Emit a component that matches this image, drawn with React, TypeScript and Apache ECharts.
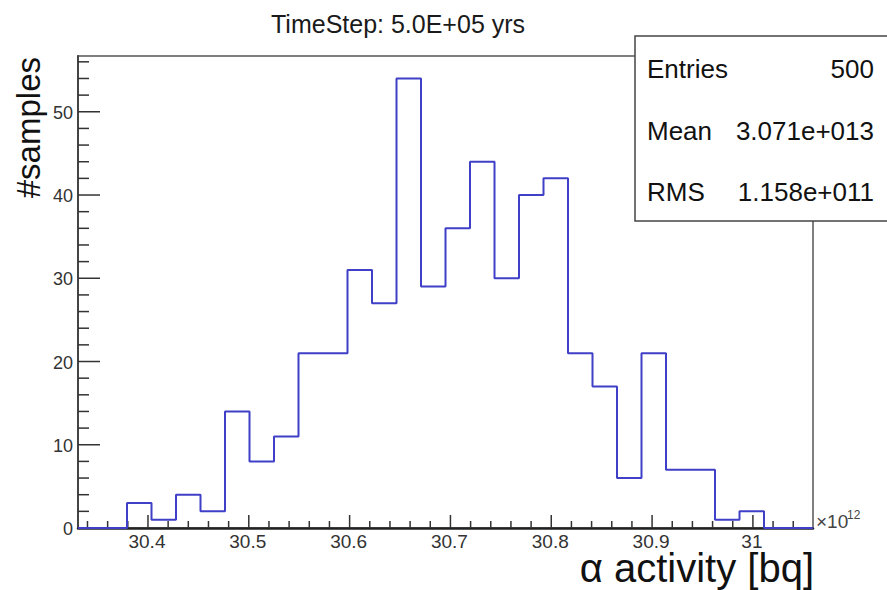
import React, { useEffect, useRef } from "react";
import * as echarts from "echarts";

// ---- data ----
const X_MIN = 30.3306;
const BIN_WIDTH = 0.0243;
const binCounts = [0, 0, 3, 1, 4, 2, 14, 8, 11, 21, 21, 31, 27, 54, 29, 36, 44, 30, 40, 42, 21, 17, 6, 21, 7, 7, 1, 2, 0, 0];
const Y_MAX = 56.7;
const xMajorTicks = [30.4, 30.5, 30.6, 30.7, 30.8, 30.9, 31.0];
const xTickLabels = ["30.4", "30.5", "30.6", "30.7", "30.8", "30.9", "31"];
const yMajorTicks = [0, 10, 20, 30, 40, 50];
const yTickLabels = ["0", "10", "20", "30", "40", "50"];
const statLabels = ["Entries", "Mean", "RMS"];
const statValues = ["500", "3.071e+013", "1.158e+011"];
const TITLE = "TimeStep: 5.0E+05 yrs";
const X_TITLE = "α activity [bq]";
const Y_TITLE = "#samples";
const X_EXP = "12";

const FONT = "'Liberation Sans', Arial, Helvetica, sans-serif";

export default function App() {
  const ref = useRef<HTMLDivElement>(null);

  useEffect(() => {
    if (!ref.current) return;
    const chart = echarts.init(ref.current, undefined, { renderer: "svg" });

    const nBins = binCounts.length;
    const X_MAX = X_MIN + nBins * BIN_WIDTH;
    const histData: number[][] = binCounts.map((c, i) => [X_MIN + i * BIN_WIDTH, c]);
    histData.push([X_MAX, binCounts[nBins - 1]]);

    // axis tick decorations (drawn through the axis scales)
    const xTickData: number[][] = [];
    xMajorTicks.forEach((v, i) => xTickData.push([v, 0, 1, i]));
    for (let k = 1517; k <= 1552; k++) {
      if (k % 5 !== 0) xTickData.push([k * 0.02, 0, 0, -1]);
    }
    const yTickData: number[][] = [];
    yMajorTicks.forEach((v, i) => yTickData.push([X_MIN, v, 1, i]));
    for (let v = 2; v <= 56; v += 2) {
      if (v % 10 !== 0) yTickData.push([X_MIN, v, 0, -1]);
    }

    const tickColor = "#333";

    chart.setOption({
      animation: false,
      backgroundColor: "#fff",
      title: {
        text: TITLE,
        left: 266,
        top: 6,
        textStyle: { fontFamily: FONT, fontSize: 25, fontWeight: "normal", color: "#1a1a1a" },
      },
      grid: {
        left: 78,
        right: 74,
        top: 56,
        bottom: 62,
        show: true,
        borderColor: "#555",
        borderWidth: 1.5,
        backgroundColor: "transparent",
      },
      xAxis: {
        type: "value",
        min: X_MIN,
        max: X_MAX,
        axisLine: { show: true, onZero: false, lineStyle: { color: "#222", width: 2.5 } },
        axisTick: { show: false },
        axisLabel: { show: false },
        splitLine: { show: false },
      },
      yAxis: {
        type: "value",
        min: 0,
        max: Y_MAX,
        axisLine: { show: true, onZero: false, lineStyle: { color: "#444", width: 2 } },
        axisTick: { show: false },
        axisLabel: { show: false },
        splitLine: { show: false },
      },
      series: [
        {
          type: "line",
          name: "hist",
          step: "end",
          data: histData,
          showSymbol: false,
          symbol: "none",
          clip: false,
          lineStyle: { color: "#3f3fc8", width: 2 },
          z: 5,
        },
        {
          type: "custom",
          name: "xticks",
          coordinateSystem: "cartesian2d",
          clip: false,
          silent: true,
          z: 3,
          data: xTickData,
          renderItem: (params: any, api: any) => {
            const v = api.value(0);
            const major = api.value(2);
            const idx = api.value(3);
            const p = api.coord([v, 0]);
            const len = major ? 13 : 7;
            const children: any[] = [
              {
                type: "line",
                shape: { x1: p[0], y1: p[1], x2: p[0], y2: p[1] - len },
                style: { stroke: tickColor, lineWidth: 1.5 },
              },
            ];
            if (major) {
              children.push({
                type: "text",
                style: {
                  text: xTickLabels[idx],
                  x: p[0] - 1,
                  y: p[1] + 4,
                  align: "center",
                  verticalAlign: "top",
                  fill: "#333",
                  fontSize: 19,
                  fontFamily: FONT,
                },
              });
            }
            return { type: "group", children };
          },
        },
        {
          type: "custom",
          name: "yticks",
          coordinateSystem: "cartesian2d",
          clip: false,
          silent: true,
          z: 3,
          data: yTickData,
          renderItem: (params: any, api: any) => {
            const v = api.value(1);
            const major = api.value(2);
            const idx = api.value(3);
            const p = api.coord([X_MIN, v]);
            const len = major ? 22 : 11;
            const children: any[] = [
              {
                type: "line",
                shape: { x1: p[0], y1: p[1], x2: p[0] + len, y2: p[1] },
                style: { stroke: tickColor, lineWidth: 1.5 },
              },
            ];
            if (major) {
              children.push({
                type: "text",
                style: {
                  text: yTickLabels[idx],
                  x: p[0] - 5,
                  y: p[1] + 1,
                  align: "right",
                  verticalAlign: "middle",
                  fill: "#333",
                  fontSize: 18,
                  fontFamily: FONT,
                },
              });
            }
            return { type: "group", children };
          },
        },
      ],
      graphic: [
        {
          type: "rect",
          z: 100,
          shape: { x: 635, y: 36, width: 270, height: 185 },
          style: { fill: "#fff", stroke: "#444", lineWidth: 1.5 },
        },
        ...statLabels.map((t, i) => ({
          type: "text",
          z: 101,
          style: {
            text: t,
            x: 647,
            y: 69 + i * 61.5,
            align: "left",
            verticalAlign: "middle",
            fill: "#111",
            fontSize: 26,
            fontFamily: FONT,
          },
        })),
        ...statValues.map((t, i) => ({
          type: "text",
          z: 101,
          style: {
            text: t,
            x: 874,
            y: 69 + i * 61.5,
            align: "right",
            verticalAlign: "middle",
            fill: "#111",
            fontSize: 26,
            fontFamily: FONT,
          },
        })),
        {
          type: "text",
          z: 101,
          x: 28,
          y: 57,
          rotation: Math.PI / 2,
          style: {
            text: Y_TITLE,
            x: 0,
            y: 0,
            align: "right",
            verticalAlign: "middle",
            fill: "#111",
            fontSize: 33,
            fontFamily: FONT,
          },
        },
        {
          type: "text",
          z: 101,
          style: {
            text: X_TITLE,
            x: 814,
            y: 568,
            align: "right",
            verticalAlign: "middle",
            fill: "#111",
            fontSize: 40,
            fontFamily: FONT,
          },
        },
        {
          type: "text",
          z: 101,
          style: {
            text: "×10",
            x: 816,
            y: 521,
            align: "left",
            verticalAlign: "middle",
            fill: "#444",
            fontSize: 19,
            fontFamily: FONT,
          },
        },
        {
          type: "text",
          z: 101,
          style: {
            text: X_EXP,
            x: 847,
            y: 515,
            align: "left",
            verticalAlign: "middle",
            fill: "#444",
            fontSize: 12,
            fontFamily: FONT,
          },
        },
      ],
    });

    return () => {
      chart.dispose();
    };
  }, []);

  return (
    <div
      ref={ref}
      style={{ position: "absolute", left: 0, top: 0, width: 887, height: 590, background: "#fff" }}
    />
  );
}
